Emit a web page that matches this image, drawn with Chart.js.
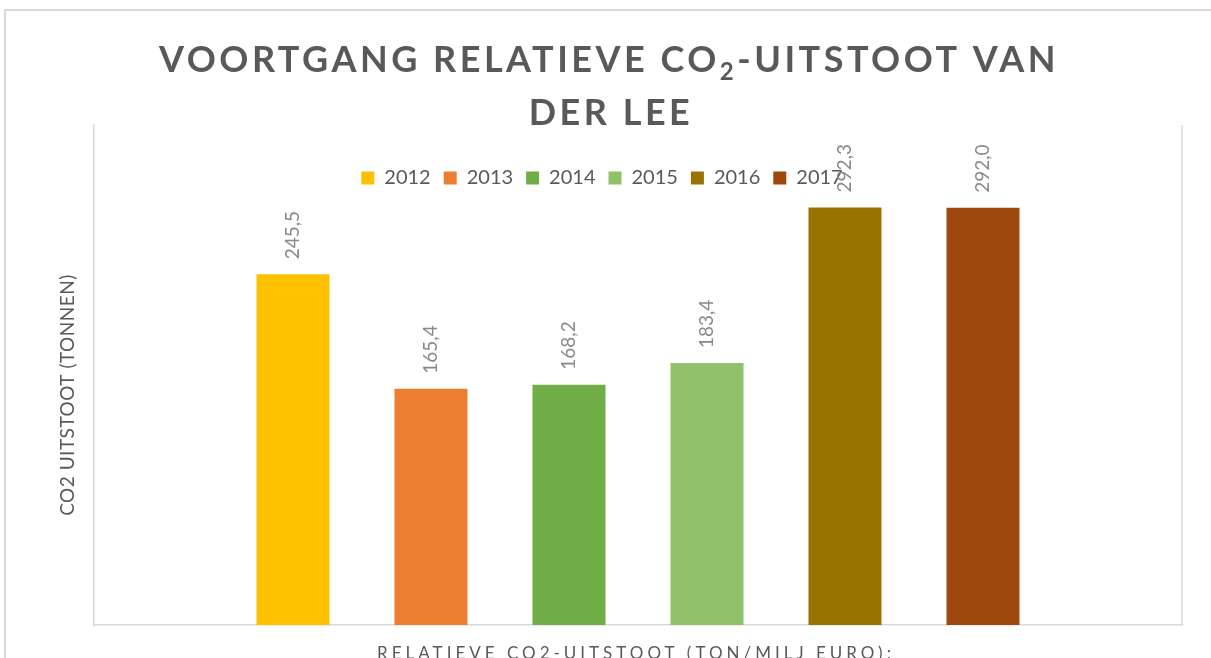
<!DOCTYPE html>
<html>
<head>
<meta charset="utf-8">
<script src="https://cdn.jsdelivr.net/npm/chart.js@4.4.0/dist/chart.umd.min.js"></script>
<style>
  html, body { margin: 0; padding: 0; background: #fff; overflow: hidden; }
  canvas { display: block; }
</style>
</head>
<body>
<canvas id="grafiek" width="1211" height="658"></canvas>
<script>
// gegevens
const jaren = ['2012', '2013', '2014', '2015', '2016', '2017'];
const uitstoot = [245.5, 165.4, 168.2, 183.4, 292.3, 292.0];
const kleuren = ['#FFC000', '#ED7D31', '#70AD47', '#8FC16A', '#997300', '#9E480E'];
const categorie = [''];

const titelRegel1 = ['VOORTGANG RELATIEVE CO', '2', '-UITSTOOT VAN'];
const titelRegel2 = 'DER LEE';
const yTitel = 'CO2 UITSTOOT (TONNEN)';
const xTitel = 'RELATIEVE CO2-UITSTOOT (TON/MILJ EURO):';

const grijs = '#595959';
const lijnKleur = '#d9d9d9';

Chart.defaults.font.family = 'Lato';

// kader rond de grafiek en rechterrand van het plotgebied
const kader = {
    id: 'kader',
    beforeDraw(chart) {
        const ctx = chart.ctx;
        const ca = chart.chartArea;
        ctx.save();
        ctx.strokeStyle = lijnKleur;
        ctx.lineWidth = 2;
        ctx.beginPath();
        ctx.moveTo(5, 658);
        ctx.lineTo(5, 10);
        ctx.lineTo(1211, 10);
        ctx.stroke();
        ctx.lineWidth = 1.5;
        ctx.beginPath();
        ctx.moveTo(ca.right, ca.top);
        ctx.lineTo(ca.right, ca.bottom);
        ctx.stroke();
        ctx.restore();
    }
};

// legenda staat in Excel binnen het plotgebied: omlaag schuiven
const legendaPlek = {
    id: 'legendaPlek',
    afterLayout(chart) {
        const lg = chart.legend;
        lg.left -= 36;
        lg.right -= 36;
        lg.top += 73;
        lg.bottom += 73;
    }
};

// waardes boven de staven (gedraaid)
const waardes = {
    id: 'waardes',
    afterDatasetsDraw(chart) {
        const ctx = chart.ctx;
        ctx.save();
        ctx.font = '19px Lato';
        ctx.fillStyle = '#898989';
        ctx.textAlign = 'left';
        ctx.textBaseline = 'middle';
        chart.data.datasets.forEach((ds, i) => {
            const meta = chart.getDatasetMeta(i);
            meta.data.forEach((bar, j) => {
                const tekst = ds.data[j].toFixed(1).replace('.', ',');
                ctx.save();
                ctx.translate(bar.x, bar.y - 15);
                ctx.rotate(-Math.PI / 2);
                ctx.fillText(tekst, 0, 0);
                ctx.restore();
            });
        });
        ctx.restore();
    }
};

// titel en astitels
const teksten = {
    id: 'teksten',
    afterDraw(chart) {
        const ctx = chart.ctx;
        ctx.save();
        ctx.fillStyle = grijs;
        ctx.textBaseline = 'alphabetic';
        ctx.textAlign = 'left';

        // titel regel 1 met subscript
        ctx.letterSpacing = '3.5px';
        const groot = 'bold 36px Lato';
        const klein = 'bold 24px Lato';
        ctx.font = groot;
        const b1 = ctx.measureText(titelRegel1[0]).width;
        const b3 = ctx.measureText(titelRegel1[2]).width;
        ctx.font = klein;
        const b2 = ctx.measureText(titelRegel1[1]).width;
        let x = 609 - (b1 + b2 + b3) / 2;
        ctx.font = groot;
        ctx.fillText(titelRegel1[0], x, 72);
        x += b1;
        ctx.font = klein;
        ctx.fillText(titelRegel1[1], x, 80);
        x += b2;
        ctx.font = groot;
        ctx.fillText(titelRegel1[2], x, 72);

        ctx.textAlign = 'center';
        ctx.fillText(titelRegel2, 611, 125);

        // x-as titel
        ctx.letterSpacing = '4px';
        ctx.font = '17px Lato';
        ctx.fillText(xTitel, 636, 659);

        // y-as titel
        ctx.letterSpacing = '0.5px';
        ctx.font = '19px Lato';
        ctx.translate(68, 395);
        ctx.rotate(-Math.PI / 2);
        ctx.textBaseline = 'middle';
        ctx.fillText(yTitel, 0, 0);
        ctx.restore();
    }
};

new Chart(document.getElementById('grafiek'), {
    type: 'bar',
    data: {
        labels: categorie,
        datasets: jaren.map((jaar, i) => ({
            label: jaar,
            data: [uitstoot[i]],
            backgroundColor: kleuren[i],
            categoryPercentage: 0.761,
            barPercentage: 0.529
        }))
    },
    options: {
        responsive: false,
        animation: false,
        layout: {
            padding: { left: 94, right: 29, top: 82, bottom: 33 }
        },
        plugins: {
            title: { display: false },
            tooltip: { enabled: false },
            legend: {
                position: 'top',
                align: 'center',
                labels: {
                    boxWidth: 13,
                    boxHeight: 13,
                    padding: 13,
                    color: grijs,
                    font: { size: 20 }
                }
            }
        },
        scales: {
            x: {
                grid: { display: false, drawTicks: false },
                ticks: { display: false },
                border: { display: true, color: lijnKleur, width: 1.5 }
            },
            y: {
                min: 0,
                max: 350,
                grid: { display: false, drawTicks: false },
                ticks: { display: false },
                border: { display: true, color: lijnKleur, width: 1.5 }
            }
        }
    },
    plugins: [kader, legendaPlek, waardes, teksten]
});
</script>
</body>
</html>
